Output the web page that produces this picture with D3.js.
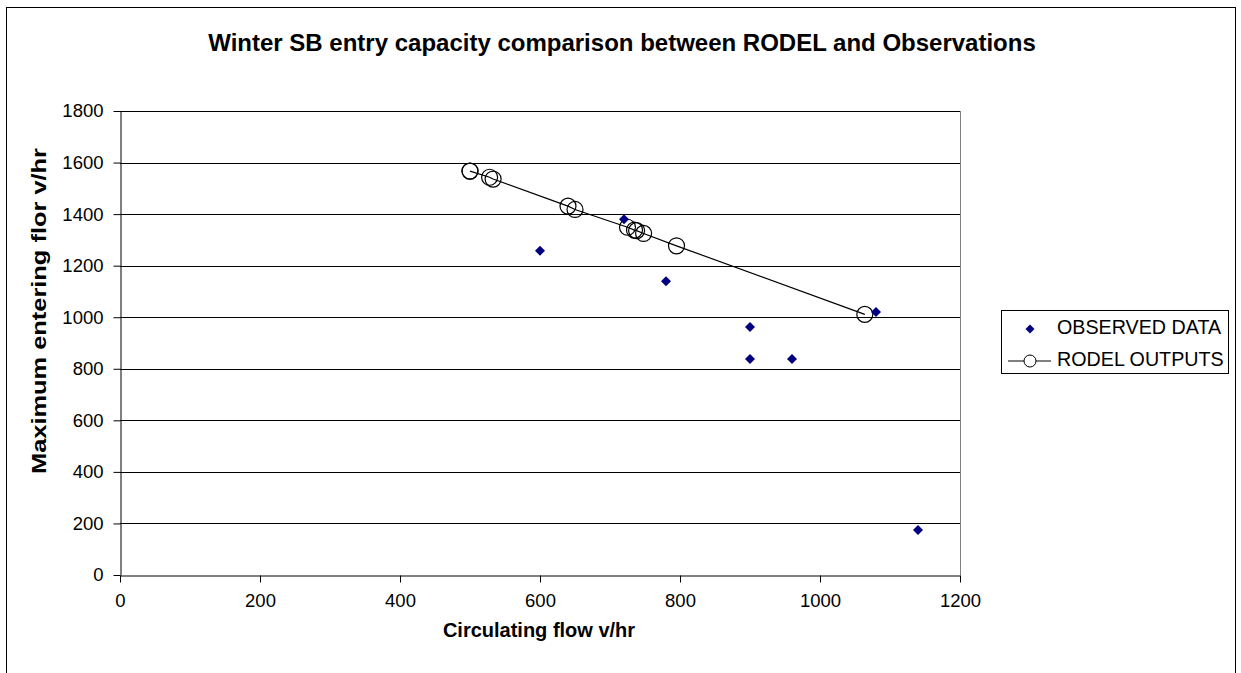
<!DOCTYPE html>
<html><head><meta charset="utf-8">
<script src="https://cdn.jsdelivr.net/npm/d3@7"></script>
<style>body{margin:0;background:#fff;} svg{display:block;font-family:"Liberation Sans",Arial,sans-serif;}</style>
</head><body>
<svg id="c" width="1241" height="673"></svg>
<script>
const observedX = [600, 720, 780, 900, 900, 960, 1080, 1140];
const observedY = [1258, 1380, 1140, 962, 838, 838, 1020, 175];
const rodelX = [500, 500, 528, 533, 640, 650, 725, 735, 738, 748, 795, 1064];
const rodelY = [1567, 1567, 1543, 1536, 1431, 1418, 1349, 1338, 1336, 1325, 1277, 1011];
const xTicks = [0, 200, 400, 600, 800, 1000, 1200];
const yTicks = [0, 200, 400, 600, 800, 1000, 1200, 1400, 1600, 1800];
const titleText = "Winter SB entry capacity comparison between RODEL and Observations";
const xTitle = "Circulating flow v/hr";
const yTitle = "Maximum entering flor v/hr";
const legendNames = ["OBSERVED DATA", "RODEL OUTPUTS"];

const svg = d3.select("#c");
const L = 120, R = 960, T = 111, B = 575;
const x = d3.scaleLinear().domain([0, 1200]).range([L, R]);
const y = d3.scaleLinear().domain([0, 1800]).range([B, T]);

// outer border
svg.append("rect").attr("x", 6.5).attr("y", 7.5).attr("width", 1229).attr("height", 700)
  .attr("fill", "none").attr("stroke", "#000").attr("stroke-width", 1);

// gridlines
svg.append("g").selectAll("line").data(yTicks.slice(1)).join("line")
  .attr("x1", L).attr("x2", R)
  .attr("y1", d => Math.round(y(d)) + 0.5).attr("y2", d => Math.round(y(d)) + 0.5)
  .attr("stroke", "#000").attr("stroke-width", 1);
// right border of plot
svg.append("line").attr("x1", R + 0.5).attr("x2", R + 0.5).attr("y1", T).attr("y2", B)
  .attr("stroke", "#808080");

// axes
const fmt = d3.format("d");
const xAxis = svg.append("g").attr("transform", `translate(0,${B + 0.5})`)
  .call(d3.axisBottom(x).tickValues(xTicks).tickFormat(fmt).tickSize(7).tickPadding(11).tickSizeOuter(0));
const yAxis = svg.append("g").attr("transform", `translate(${L + 0.5},0)`)
  .call(d3.axisLeft(y).tickValues(yTicks).tickFormat(fmt).tickSize(7).tickPadding(10).tickSizeOuter(0));
[xAxis, yAxis].forEach(a => {
  a.selectAll("text").attr("font-size", 18.5).attr("fill", "#000").attr("font-family", "Liberation Sans, Arial, sans-serif");
  a.selectAll("line,path").attr("stroke", "#000");
});

// RODEL line
const pts = rodelX.map((v, i) => [v, rodelY[i]]);
svg.append("path").datum(pts)
  .attr("d", d3.line().x(d => x(d[0])).y(d => y(d[1])))
  .attr("fill", "none").attr("stroke", "#000").attr("stroke-width", 1.2);
svg.append("g").selectAll("circle").data(pts).join("circle")
  .attr("cx", d => x(d[0])).attr("cy", d => y(d[1])).attr("r", 8)
  .attr("fill", "none").attr("stroke", "#000").attr("stroke-width", 1.2);

// observed diamonds
const diamond = d3.symbol().type(d3.symbolSquare).size(50);
svg.append("g").selectAll("path").data(observedX.map((v, i) => [v, observedY[i]])).join("path")
  .attr("d", diamond)
  .attr("transform", d => `translate(${x(d[0])},${y(d[1])}) rotate(45)`)
  .attr("fill", "#000080");

// title
svg.append("text").attr("x", 622).attr("y", 51).attr("text-anchor", "middle")
  .attr("font-size", 24).attr("font-weight", "bold").text(titleText);
svg.append("text").attr("x", 539).attr("y", 637).attr("text-anchor", "middle")
  .attr("font-size", 20).attr("font-weight", "bold").text(xTitle);
svg.append("text").attr("transform", `translate(46,311) rotate(-90)`)
  .attr("text-anchor", "middle").attr("font-size", 20).attr("font-weight", "bold")
  .attr("textLength", 326).attr("lengthAdjust", "spacingAndGlyphs").text(yTitle);

// legend
const lg = svg.append("g");
lg.append("rect").attr("x", 1001.5).attr("y", 310.5).attr("width", 227).attr("height", 63)
  .attr("fill", "#fff").attr("stroke", "#000");
lg.append("path").attr("d", d3.symbol().type(d3.symbolSquare).size(40))
  .attr("transform", "translate(1030,329) rotate(45)").attr("fill", "#000080");
lg.append("line").attr("x1", 1008).attr("x2", 1051).attr("y1", 361).attr("y2", 361).attr("stroke", "#000");
lg.append("circle").attr("cx", 1030).attr("cy", 361).attr("r", 6).attr("fill", "#fff").attr("stroke", "#000");
lg.selectAll("text.lt").data(legendNames).join("text").attr("class", "lt")
  .attr("x", 1057).attr("y", (d, i) => 334 + i * 32).attr("font-size", 19.7).text(d => d);
</script>
</body></html>
